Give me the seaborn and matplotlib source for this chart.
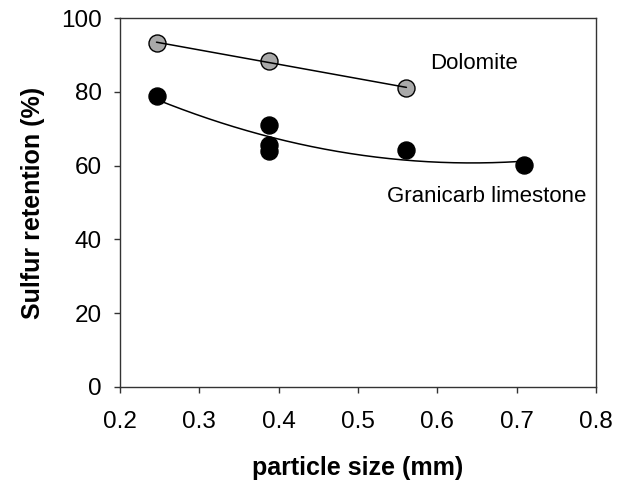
import numpy as np
import pandas as pd
import matplotlib
matplotlib.use("Agg")
import matplotlib.pyplot as plt
import seaborn as sns

# Sulfur retention vs. sorbent particle size
dolomite_size = [0.246, 0.388, 0.561]
dolomite_ret = [93.2, 88.4, 81.0]

granicarb_size = [0.246, 0.388, 0.388, 0.388, 0.561, 0.709]
granicarb_ret = [79.0, 71.0, 65.7, 64.0, 64.2, 60.2]

x_ticks = [0.2, 0.3, 0.4, 0.5, 0.6, 0.7, 0.8]
y_ticks = [0, 20, 40, 60, 80, 100]

sns.set_theme(style="white")
plt.rcParams["font.family"] = ["Liberation Sans", "DejaVu Sans"]
plt.rcParams["text.color"] = "black"
plt.rcParams["axes.labelcolor"] = "black"
plt.rcParams["xtick.color"] = "black"
plt.rcParams["ytick.color"] = "black"

fig = plt.figure(figsize=(6.19, 4.88), dpi=100)
ax = fig.add_axes([0.1939, 0.207, 0.7690, 0.756])

dol = pd.DataFrame({"size": dolomite_size, "ret": dolomite_ret})
gra = pd.DataFrame({"size": granicarb_size, "ret": granicarb_ret})

sns.scatterplot(data=dol, x="size", y="ret", ax=ax, s=150, color="#a9a9a9",
                edgecolor="black", linewidth=1.0, zorder=2, legend=False)
sns.scatterplot(data=gra, x="size", y="ret", ax=ax, s=150, color="black",
                edgecolor="black", linewidth=1.0, zorder=2, legend=False)

# trend lines: linear for dolomite, second order for limestone
for df, order in ((dol, 1), (gra, 2)):
    coef = np.polyfit(df["size"], df["ret"], order)
    xs = np.linspace(df["size"].min(), df["size"].max(), 200)
    sns.lineplot(x=xs, y=np.polyval(coef, xs), ax=ax, color="black",
                 linewidth=1.1, zorder=3, legend=False)

ax.text(0.591, 87.8, "Dolomite", fontsize=16, ha="left", va="center")
ax.text(0.537, 51.5, "Granicarb limestone", fontsize=16, ha="left", va="center")

ax.set_xlim(0.2, 0.8)
ax.set_ylim(0, 100)
ax.set_xticks(x_ticks)
ax.set_xticklabels([f"{t:.1f}" for t in x_ticks])
ax.set_yticks(y_ticks)
ax.set_yticklabels([str(t) for t in y_ticks])
ax.tick_params(axis="both", which="major", labelsize=17.5, direction="out",
               length=4, width=1, color="#333333", bottom=True, left=True,
               top=False, right=False)
ax.tick_params(axis="x", pad=13)
ax.tick_params(axis="y", pad=9)
ax.set_xlabel("particle size (mm)", fontsize=18, fontweight="bold", labelpad=17)
ax.set_ylabel("Sulfur retention (%)", fontsize=18, fontweight="bold", labelpad=12)
for sp in ax.spines.values():
    sp.set_visible(True)
    sp.set_color("#333333")
    sp.set_linewidth(1.0)

fig.savefig("out.png", dpi=100, facecolor="white")
